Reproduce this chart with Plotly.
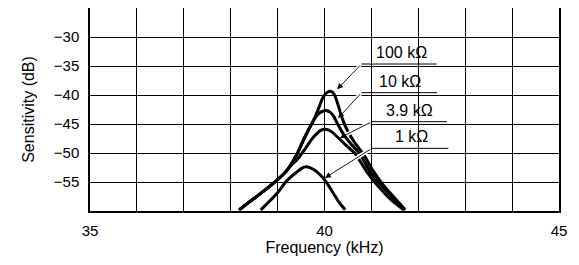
import plotly.graph_objects as go

# ---- data ----
freq_100k = [38.18, 38.64, 38.99, 39.20, 39.40, 39.55, 39.66, 39.76, 39.87, 39.97, 40.05, 40.12,
             40.18, 40.23, 40.30, 40.40, 40.52, 40.66, 40.83, 41.03, 41.25, 41.50, 41.72]
sens_100k = [-59.8, -56.95, -54.66, -53.0, -50.4, -47.8, -46.0, -44.5, -42.4, -40.4, -39.6, -39.35,
             -39.6, -40.3, -42.0, -44.5, -46.6, -48.4, -50.2, -53.0, -55.5, -57.8, -59.8]

freq_10k = [38.18, 38.64, 38.99, 39.20, 39.40, 39.55, 39.66, 39.76, 39.84, 39.92, 39.98, 40.05,
            40.12, 40.19, 40.28, 40.40, 40.57, 40.75, 40.97, 41.19, 41.46, 41.71]
sens_10k = [-59.8, -56.95, -54.66, -53.0, -50.4, -47.8, -46.0, -44.5, -43.5, -42.95, -42.75, -42.7,
            -42.95, -43.6, -45.0, -46.7, -48.5, -50.05, -53.2, -55.4, -57.7, -59.8]

freq_3k9 = [38.18, 38.64, 38.99, 39.12, 39.28, 39.41, 39.52, 39.62, 39.73, 39.83, 39.92, 40.01,
            40.09, 40.17, 40.27, 40.45, 40.65, 40.90, 41.12, 41.40, 41.69]
sens_3k9 = [-59.8, -56.95, -54.66, -53.7, -52.2, -51.2, -50.05, -48.9, -47.6, -46.7, -46.1, -45.9,
            -46.05, -46.45, -47.2, -48.6, -50.1, -53.2, -55.5, -57.9, -59.8]

freq_1k = [38.64, 38.99, 39.21, 39.42, 39.52, 39.60, 39.70, 39.80, 39.90, 40.00, 40.10, 40.20, 40.32, 40.44]
sens_1k = [-59.83, -56.95, -54.66, -53.22, -52.6, -52.36, -52.55, -53.0, -53.7, -54.6, -55.8, -57.1, -58.6, -59.8]

series_names = ["100 kΩ", "10 kΩ", "3.9 kΩ", "1 kΩ"]

x_ticks = [35, 36, 37, 38, 39, 40, 41, 42, 43, 44, 45]
x_tick_labels = ["35", "", "", "", "", "40", "", "", "", "", "45"]
y_ticks = [-60, -55, -50, -45, -40, -35, -30, -25]
y_tick_labels = ["", "−55", "−50", "−45", "−40", "−35", "−30", ""]

# ---- label layout (underline start/end, underline y, arrow tip, text centre) ----
label_layout = [
    dict(x0=40.79, x1=42.39, y=-34.66, tip=(40.27, -39.0), txt=(41.65, -32.6)),
    dict(x0=40.79, x1=42.40, y=-39.6, tip=(40.29, -44.0), txt=(41.61, -37.7)),
    dict(x0=41.01, x1=42.61, y=-44.6, tip=(40.33, -47.4), txt=(41.82, -42.6)),
    dict(x0=41.01, x1=42.64, y=-49.2, tip=(40.01, -54.3), txt=(41.86, -47.2)),
]

FONT = "Liberation Sans, Arial, sans-serif"

fig = go.Figure()
for fx, sy, name in [(freq_100k, sens_100k, series_names[0]),
                     (freq_10k, sens_10k, series_names[1]),
                     (freq_3k9, sens_3k9, series_names[2]),
                     (freq_1k, sens_1k, series_names[3])]:
    fig.add_trace(go.Scatter(x=fx, y=sy, mode="lines", name=name,
                             line=dict(color="black", width=3, shape="spline", smoothing=0.8),
                             showlegend=False, hoverinfo="skip"))

annotations = []
shapes = []
for lay, name in zip(label_layout, series_names):
    tx, ty = lay["tip"]
    # white halo under the arrow, breaking the curves it crosses
    annotations.append(dict(x=tx, y=ty, ax=lay["x0"], ay=lay["y"], xref="x", yref="y",
                            axref="x", ayref="y", showarrow=True, arrowhead=0,
                            arrowwidth=4, arrowcolor="white", standoff=7, text=""))
    annotations.append(dict(x=tx, y=ty, ax=lay["x0"], ay=lay["y"], xref="x", yref="y",
                            axref="x", ayref="y", showarrow=True, arrowhead=2,
                            arrowsize=1.3, arrowwidth=0.9, arrowcolor="black", text=""))
    annotations.append(dict(x=lay["txt"][0], y=lay["txt"][1], xref="x", yref="y",
                            text=name, showarrow=False, xanchor="center", yanchor="middle",
                            font=dict(family=FONT, size=16, color="black")))
    shapes.append(dict(type="line", xref="x", yref="y", x0=lay["x0"], x1=lay["x1"],
                       y0=lay["y"], y1=lay["y"], line=dict(color="black", width=1)))

# the page body adds an 8 px offset, so the figure is 8 px smaller than the window
fig.update_layout(
    width=571, height=257,
    margin=dict(l=82, r=20, t=0, b=54, autoexpand=False),
    paper_bgcolor="white", plot_bgcolor="white",
    annotations=annotations, shapes=shapes,
    font=dict(family=FONT, color="black"),
)
fig.update_xaxes(range=[35, 45], tickvals=x_ticks, ticktext=x_tick_labels,
                 showgrid=True, gridcolor="black", gridwidth=1,
                 showline=True, linecolor="black", linewidth=1.5, mirror=True,
                 ticks="", ticklabelstandoff=5, zeroline=False, automargin=False,
                 tickfont=dict(family=FONT, size=15, color="black"),
                 title=dict(text="Frequency (kHz)", standoff=3,
                            font=dict(family=FONT, size=16, color="black")))
fig.update_yaxes(range=[-60, -25], tickvals=y_ticks, ticktext=y_tick_labels,
                 showgrid=True, gridcolor="black", gridwidth=1,
                 showline=True, linecolor="black", linewidth=1.5, mirror=True,
                 ticks="", ticklabelstandoff=6, zeroline=False, automargin=False,
                 tickfont=dict(family=FONT, size=15, color="black"),
                 title=dict(text="Sensitivity (dB)", standoff=15,
                            font=dict(family=FONT, size=16, color="black")))

fig.write_html("out.html")
